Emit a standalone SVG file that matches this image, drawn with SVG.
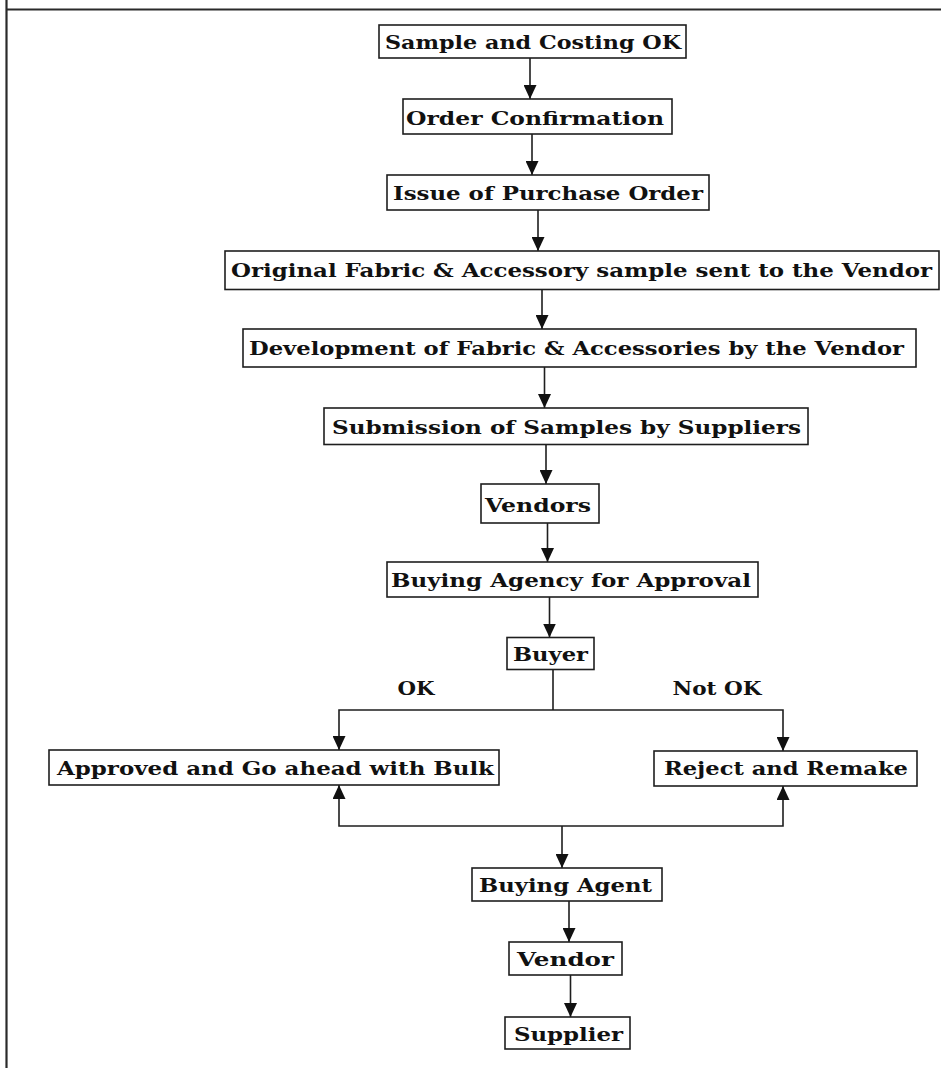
<svg xmlns="http://www.w3.org/2000/svg" width="941" height="1068" viewBox="0 0 941 1068">
  <style>
    .box { fill: #ffffff; stroke: #1e1e1e; stroke-width: 1.6; }
    .lbl { font-family: "DejaVu Serif", "Liberation Serif", serif; font-weight: bold; font-size: 18px; fill: #111111; text-anchor: middle; }
    .edge { fill: none; stroke: #1e1e1e; stroke-width: 1.6; }
    .arr { marker-end: url(#head); }
    .frame { fill: none; stroke: #2a2a2a; stroke-width: 2.2; }
  </style>
  <defs>
    <marker id="head" viewBox="0 0 14 13" refX="14" refY="6.5" markerWidth="14" markerHeight="13" markerUnits="userSpaceOnUse" orient="auto">
      <path d="M0,0 L14,6.5 L0,13 z" fill="#111111"/>
    </marker>
  </defs>

  <rect width="941" height="1068" fill="#ffffff"/>

  <!-- page frame -->
  <g id="frame">
    <line class="frame" x1="6.5" y1="0" x2="6.5" y2="1068"/>
    <line class="frame" x1="6.5" y1="9.5" x2="941" y2="9.5"/>
  </g>

  <!-- connectors -->
  <g id="connectors">
    <line class="edge arr" x1="530" y1="58" x2="530" y2="99"/>
    <line class="edge arr" x1="532" y1="134" x2="532" y2="175"/>
    <line class="edge arr" x1="538" y1="210" x2="538" y2="251"/>
    <line class="edge arr" x1="542" y1="289.5" x2="542" y2="329"/>
    <line class="edge arr" x1="544.5" y1="367" x2="544.5" y2="408"/>
    <line class="edge arr" x1="546" y1="444.5" x2="546" y2="484"/>
    <line class="edge arr" x1="547.5" y1="523" x2="547.5" y2="562"/>
    <line class="edge arr" x1="549.5" y1="597" x2="549.5" y2="637.5"/>
    <!-- decision split below Buyer -->
    <path class="edge" d="M553,669.5 V710"/>
    <path class="edge arr" d="M553,710 H339 V750"/>
    <path class="edge arr" d="M553,710 H783 V751"/>
    <!-- merge back through Buying Agent -->
    <path class="edge arr" d="M562,826 H339 V785"/>
    <path class="edge arr" d="M562,826 H783 V786"/>
    <line class="edge arr" x1="562" y1="826" x2="562" y2="868"/>
    <line class="edge arr" x1="569" y1="901" x2="569" y2="942"/>
    <line class="edge arr" x1="570.5" y1="975" x2="570.5" y2="1017"/>
    <text class="lbl" x="416" y="695" textLength="37" lengthAdjust="spacingAndGlyphs">OK</text>
    <text class="lbl" x="717" y="695" textLength="89" lengthAdjust="spacingAndGlyphs">Not OK</text>
  </g>

  <g id="n-sample">
    <rect class="box" x="379" y="25" width="307" height="33"/>
    <text class="lbl" x="533" y="48.5" textLength="296" lengthAdjust="spacingAndGlyphs">Sample and Costing OK</text>
  </g>
  <g id="n-order">
    <rect class="box" x="403" y="99" width="269" height="35"/>
    <text class="lbl" x="535" y="124.5" textLength="258" lengthAdjust="spacingAndGlyphs">Order Confirmation</text>
  </g>
  <g id="n-po">
    <rect class="box" x="387" y="175" width="322" height="35"/>
    <text class="lbl" x="548" y="199.5" textLength="310" lengthAdjust="spacingAndGlyphs">Issue of Purchase Order</text>
  </g>
  <g id="n-original">
    <rect class="box" x="225" y="251" width="714" height="38.5"/>
    <text class="lbl" x="581.5" y="277" textLength="701" lengthAdjust="spacingAndGlyphs">Original Fabric &amp; Accessory sample sent to the Vendor</text>
  </g>
  <g id="n-development">
    <rect class="box" x="243" y="329" width="673" height="38"/>
    <text class="lbl" x="576.5" y="355" textLength="655" lengthAdjust="spacingAndGlyphs">Development of Fabric &amp; Accessories by the Vendor</text>
  </g>
  <g id="n-submission">
    <rect class="box" x="324" y="408" width="484" height="36.5"/>
    <text class="lbl" x="566.5" y="433.5" textLength="469" lengthAdjust="spacingAndGlyphs">Submission of Samples by Suppliers</text>
  </g>
  <g id="n-vendors">
    <rect class="box" x="481" y="484" width="118" height="39"/>
    <text class="lbl" x="538" y="511.5" textLength="106" lengthAdjust="spacingAndGlyphs">Vendors</text>
  </g>
  <g id="n-agency">
    <rect class="box" x="387" y="562" width="371" height="35"/>
    <text class="lbl" x="571" y="586.5" textLength="360" lengthAdjust="spacingAndGlyphs">Buying Agency for Approval</text>
  </g>
  <g id="n-buyer">
    <rect class="box" x="507" y="637.5" width="87" height="32"/>
    <text class="lbl" x="550.5" y="661" textLength="75" lengthAdjust="spacingAndGlyphs">Buyer</text>
  </g>
  <g id="n-approved">
    <rect class="box" x="49" y="750" width="450" height="35"/>
    <text class="lbl" x="275.5" y="774.5" textLength="437" lengthAdjust="spacingAndGlyphs">Approved and Go ahead with Bulk</text>
  </g>
  <g id="n-reject">
    <rect class="box" x="654" y="751" width="263" height="35"/>
    <text class="lbl" x="786" y="775" textLength="244" lengthAdjust="spacingAndGlyphs">Reject and Remake</text>
  </g>
  <g id="n-agent">
    <rect class="box" x="472" y="868" width="190" height="33"/>
    <text class="lbl" x="565.5" y="891.5" textLength="173" lengthAdjust="spacingAndGlyphs">Buying Agent</text>
  </g>
  <g id="n-vendor">
    <rect class="box" x="509" y="942" width="113" height="33"/>
    <text class="lbl" x="565.5" y="966" textLength="97" lengthAdjust="spacingAndGlyphs">Vendor</text>
  </g>
  <g id="n-supplier">
    <rect class="box" x="505" y="1017" width="125" height="32"/>
    <text class="lbl" x="568.5" y="1040.5" textLength="109" lengthAdjust="spacingAndGlyphs">Supplier</text>
  </g>
</svg>
